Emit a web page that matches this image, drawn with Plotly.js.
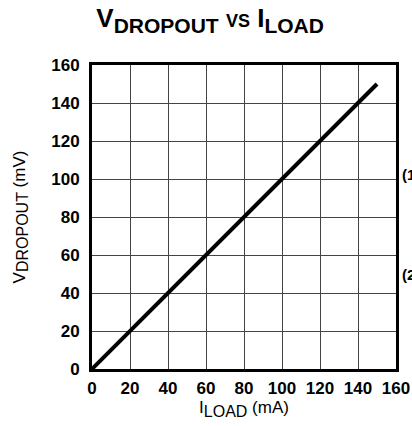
<!DOCTYPE html>
<html>
<head>
<meta charset="utf-8">
<script src="https://cdn.plot.ly/plotly-3.0.1.min.js"></script>
<style>html,body{margin:0;padding:0;background:#fff;}#chart{width:412px;height:426px;}</style>
</head>
<body>
<div id="chart"></div>
<script>
var loadCurrent = [0, 20, 40, 60, 80, 100, 120, 140, 150];
var dropoutVoltage = [0, 20, 40, 60, 80, 100, 120, 140, 150];
var tickVals = [0, 20, 40, 60, 80, 100, 120, 140, 160];
var tickText = ['0', '20', '40', '60', '80', '100', '120', '140', '160'];

var FONT = 'Liberation Sans, Arial, sans-serif';

var trace = {
  x: loadCurrent,
  y: dropoutVoltage,
  mode: 'lines',
  line: {color: '#000', width: 4},
  hoverinfo: 'skip',
  showlegend: false
};

var axisCommon = {
  range: [0, 160],
  tickmode: 'array',
  tickvals: tickVals,
  ticktext: tickText,
  showgrid: true,
  gridcolor: '#444',
  gridwidth: 1,
  zeroline: false,
  showline: true,
  linecolor: '#000',
  linewidth: 3,
  mirror: true,
  ticks: '',
  tickfont: {family: FONT, size: 17, color: '#000', weight: 'bold'},
  fixedrange: true
};

var layout = {
  width: 412,
  height: 426,
  margin: {l: 92, r: 16, t: 65, b: 57},
  paper_bgcolor: '#fff',
  plot_bgcolor: '#fff',
  title: {
    text: 'V<sub><span style="font-size:21px">DROPOUT</span></sub> <span style="font-size:18px">VS</span> I<sub><span style="font-size:21px">LOAD</span></sub>',
    font: {family: FONT, size: 26, color: '#000', weight: 'bold'},
    x: 0.51, xref: 'container', xanchor: 'center',
    y: 0.957, yref: 'container', yanchor: 'middle'
  },
  xaxis: Object.assign({}, axisCommon, {
    title: {text: 'I<sub><span style="font-size:16px">LOAD</span></sub> (mA)', font: {family: FONT, size: 17, color: '#000'}, standoff: 1},
    ticklabelstandoff: 2
  }),
  yaxis: Object.assign({}, axisCommon, {
    title: {text: 'V<sub><span style="font-size:16px">DROPOUT</span></sub> (mV)', font: {family: FONT, size: 17, color: '#000'}, standoff: 22},
    ticklabelstandoff: 6
  }),
  annotations: [
    {text: '(1)', xref: 'paper', yref: 'paper', x: 1.0, y: 0.64, xshift: 4, xanchor: 'left', yanchor: 'middle', showarrow: false, font: {family: FONT, size: 15, color: '#000', weight: 'bold'}},
    {text: '(2)', xref: 'paper', yref: 'paper', x: 1.0, y: 0.31, xshift: 4, xanchor: 'left', yanchor: 'middle', showarrow: false, font: {family: FONT, size: 15, color: '#000', weight: 'bold'}}
  ]
};

Plotly.newPlot('chart', [trace], layout, {displayModeBar: false, staticPlot: true});
</script>
</body>
</html>
